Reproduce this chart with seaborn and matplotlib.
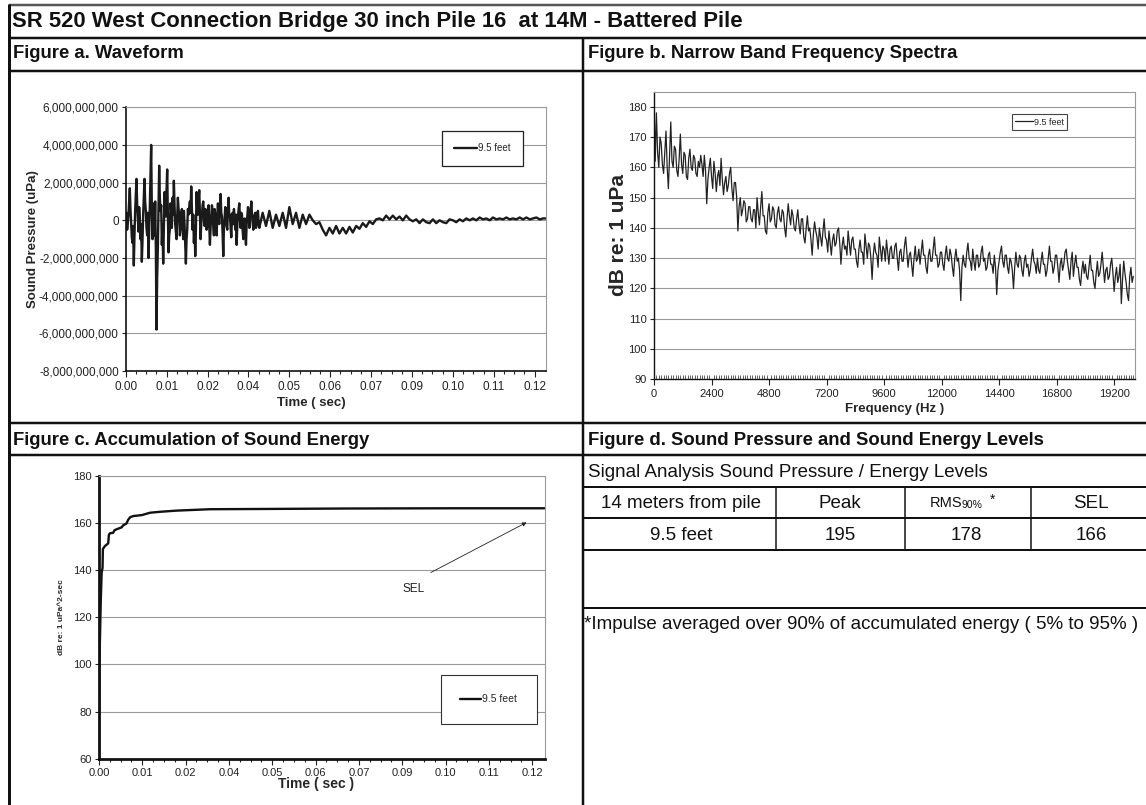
import numpy as np
import matplotlib
matplotlib.use("Agg")
import matplotlib.pyplot as plt
from matplotlib.ticker import FixedLocator, MultipleLocator, FuncFormatter, FormatStrFormatter
import seaborn as sns

W, H = 1146, 805

# Figure a: waveform, in 1e9 uPa. 0.2 ms samples up to 40 ms, then 1 ms samples
wave_step_early_ms = 0.2
wave_step_late_ms = 1.0
pressure_early = [
    0, 0.4, -0.5, -0.1, 0.3, 1.0, 1.7, 0.6, -0.2, -0.9, -1.2, -0.3, -2.4, -0.8, 0.5, 1.4, 2.2, 0.9, 0.2, -0.6,
    0.7, 0.1, -1.0, -0.2, -2.2, -1.1, 0.3, 1.3, 2.2, 1.0, 0.5, -0.4, -0.8, 0.4, -2.0, -0.7, 0.8, 2.5, 4.0, 0.6,
    -1.0, 0.9, 0.5, -0.8, 1.0, -1.5, -5.8, -3.0, -1.5, 0.8, 2.9, 1.2, 0.5, 0.8, -1.3, -0.2, -2.3, -0.4, 1.5, 0.4,
    0.2, 1.6, 2.7, 0.3, -1.7, -0.8, -0.5, 0.9, 0.5, -0.4, 1.2, 0.3, 2.1, 0.8, -0.2, -0.6, -1.0, 0.2, 1.2, 0.6,
    0.3, -0.8, -0.5, 0.4, 0.6, 0.1, -1.0, 0.5, -0.2, -1.2, -2.3, -1.0, -0.5, 0.6, 0.3, 0.7, 1.0, 0.4, 1.8, 0.6,
    -0.5, 0.3, -1.2, -0.3, -1.9, -0.5, 1.5, 0.6, 0.3, 1.1, 1.6, 0.4, -1.0, -0.2, 0.2, 0.8, 1.0, 0.3, -0.3, 0.6,
    0.5, -0.5, -0.3, 0.6, 0.8, -0.2, -1.3, -0.4, 0.2, 0.8, 0.5, -0.3, -0.8, 0.6, 0.3, -0.4, -0.8, 0.2, 0.9, 0.1,
    -0.2, 0.6, 1.4, 0.4, 0.2, -0.7, -1.9, -0.4, 0.1, 0.7, 0.5, -0.3, -0.5, 0.6, 1.2, 0.2, 0.3, -0.4, -0.9, 0.1,
    0.4, -0.2, 0.6, 0.1, -0.5, 0.3, -1.3, -0.3, 0.2, 0.6, 0.9, 0.1, -0.4, 0.4, 0.3, -0.5, -1.0, -0.1, 0.1, -0.6,
    -1.3, -0.2, 0.2, 0.7, 0.5, -0.4, -0.3, 0.5, 1.0, 0.3, 0.2, -0.5, -0.3, 0.3, 0.4, -0.4, -0.2, 0.4, 0.5, -0.2,
]
pressure_late = [
    -0.4, 0.4, -0.3, 0.5, -0.4, 0.3, -0.3, 0.4, -0.4, 0.7,
    -0.2, 0.4, -0.4, 0.3, -0.2, 0.3, 0.0, -0.2, -0.1, -0.5,
    -0.8, -0.4, -0.7, -0.3, -0.7, -0.4, -0.7, -0.35, -0.65, -0.3,
    -0.45, -0.15, -0.35, -0.05, -0.2, 0.05, 0.1, 0.0, 0.25, 0.05,
    0.25, 0.05, 0.2, 0.0, 0.25, 0.05, -0.05, 0.05, -0.15, 0.05,
    -0.1, -0.15, 0.05, -0.15, 0.0, -0.1, -0.15, 0.05, 0.0, -0.1,
    0.05, -0.05, 0.1, 0.0, 0.1, 0.0, 0.15, 0.05, 0.1, 0.0,
    0.15, 0.05, 0.1, 0.05, 0.15, 0.05, 0.1, 0.05, 0.15, 0.05,
    0.15, 0.05, 0.1, 0.15, 0.05, 0.1, 0.1,
]

# Figure b: narrow band spectrum, dB re 1 uPa every 50 Hz
spectrum_step_hz = 50
spectrum_db = [
    183, 162, 178, 165, 160, 170, 168, 161, 158, 165, 172, 160, 153, 164, 175, 162, 160, 167, 166, 159,
    157, 163, 171, 161, 158, 165, 164, 157, 156, 163, 166, 160, 159, 164, 163, 158, 157, 162, 160, 164,
    161, 157, 164, 159, 148, 156, 160, 163, 157, 153, 162, 158, 152, 157, 159, 154, 163, 156, 151, 155,
    157, 152, 154, 158, 160, 153, 149, 155, 155, 150, 139, 147, 150, 144, 146, 149, 148, 142, 143, 147,
    147, 143, 142, 146, 146, 140, 150, 145, 141, 147, 152, 144, 144, 139, 138, 145, 148, 142, 143, 147,
    146, 141, 140, 145, 147, 143, 142, 146, 145, 140, 137, 143, 148, 144, 141, 146, 144, 140, 139, 143,
    146, 141, 138, 143, 143, 137, 135, 140, 144, 139, 140, 136, 131, 138, 142, 139, 137, 133, 140, 137,
    134, 139, 143, 137, 136, 132, 139, 135, 131, 136, 138, 134, 135, 139, 140, 135, 128, 134, 137, 133,
    134, 131, 139, 135, 131, 136, 137, 133, 133, 129, 127, 133, 136, 132, 132, 128, 138, 134, 130, 135,
    134, 130, 123, 131, 135, 132, 131, 127, 137, 133, 129, 134, 133, 129, 136, 132, 128, 133, 134, 130,
    130, 134, 135, 130, 126, 132, 133, 129, 129, 134, 137, 132, 127, 131, 132, 128, 124, 130, 134, 129,
    130, 133, 128, 132, 136, 131, 131, 127, 125, 131, 133, 129, 129, 133, 137, 131, 131, 127, 128, 132,
    132, 128, 126, 131, 134, 130, 129, 133, 131, 127, 124, 130, 133, 129, 130, 126, 116, 127, 131, 128,
    127, 132, 135, 130, 129, 126, 133, 129, 126, 131, 131, 127, 128, 132, 134, 129, 130, 126, 127, 131,
    132, 128, 128, 125, 131, 127, 118, 126, 129, 132, 134, 129, 127, 131, 131, 127, 125, 130, 129, 126,
    120, 127, 132, 128, 127, 131, 130, 126, 124, 129, 131, 127, 128, 124, 126, 130, 133, 129, 128, 125,
    130, 126, 125, 129, 132, 128, 128, 124, 126, 130, 134, 129, 129, 125, 127, 131, 131, 127, 122, 128,
    130, 126, 128, 132, 133, 129, 126, 123, 129, 132, 124, 128, 131, 127, 127, 123, 121, 126, 129, 125,
    128, 124, 123, 127, 131, 126, 126, 122, 120, 125, 129, 124, 125, 128, 132, 127, 122, 126, 127, 123,
    124, 128, 130, 125, 119, 124, 127, 122, 124, 128, 115, 123, 129, 125, 122, 118, 116, 124, 127, 122,
    124,
]

# Figure c: accumulated sound energy
sel_time_ms = [0, 0.1, 0.3, 0.5, 0.75, 1.0, 1.1, 1.7, 2.6, 2.8,
               3.1, 4.0, 4.4, 5.0, 6.4, 6.8, 7.8, 8.2, 8.8, 9.7,
               12.1, 14.4, 17.2, 21.9, 26.6, 31.4, 45.5, 70, 100, 126]
sel_db = [60, 100, 113, 127, 139, 141, 149, 150.3, 151.4, 155,
          155.7, 155.9, 157, 157.4, 158.2, 159, 159.9, 161.3, 162.5, 163,
          163.4, 164.4, 164.8, 165.3, 165.6, 165.9, 166.0, 166.2, 166.3, 166.3]

# Figure d: table
table_head = ["14 meters from pile", "Peak", "RMS", "SEL"]
table_vals = ["9.5 feet", "195", "178", "166"]

time_label_step = 0.01225


def rect(l, t, r, b):
    return [l / W, 1 - b / H, (r - l) / W, (b - t) / H]


def style_axes(ax, spine_lw, tick_size=8):
    for s in ["top", "right"]:
        ax.spines[s].set_color("#9a9a9a")
        ax.spines[s].set_linewidth(0.8)
    for s in ["left", "bottom"]:
        ax.spines[s].set_color("#111111")
        ax.spines[s].set_linewidth(spine_lw)
    ax.grid(axis="y", color="#9a9a9a", lw=0.8)
    ax.grid(axis="x", visible=False)
    ax.set_axisbelow(True)
    ax.tick_params(axis="both", which="both", labelsize=tick_size, labelcolor="#222222",
                   color="#222222", left=True, bottom=True, width=0.8)
    ax.tick_params(axis="y", length=3, pad=2)
    ax.tick_params(axis="x", which="major", length=4, pad=3)
    ax.tick_params(axis="x", which="minor", length=2.5)


sns.set_theme(style="white")
plt.rcParams["font.family"] = ["Liberation Sans", "DejaVu Sans"]

fig = plt.figure(figsize=(W / 100, H / 100), dpi=100)

# ---- Figure a
t_a = np.concatenate([np.arange(len(pressure_early)) * wave_step_early_ms,
                      40 + np.arange(len(pressure_late)) * wave_step_late_ms]) / 1000
p_a = np.array(pressure_early + pressure_late) * 1e9

ax_a = fig.add_axes(rect(125.8, 107.3, 546.4, 371))
sns.lineplot(x=t_a, y=p_a, ax=ax_a, color="#1a1a1a", linewidth=1.7, label="9.5 feet", sort=False)
ax_a.set_xlim(0, 0.126)
ax_a.set_ylim(-8e9, 6e9)
ax_a.yaxis.set_major_locator(MultipleLocator(2e9))
ax_a.yaxis.set_major_formatter(FuncFormatter(lambda v, p: f"{v:,.0f}"))
ax_a.xaxis.set_major_locator(FixedLocator(np.arange(11) * time_label_step))
ax_a.xaxis.set_minor_locator(FixedLocator(np.arange(41) * time_label_step / 4))
ax_a.xaxis.set_major_formatter(FormatStrFormatter("%.2f"))
style_axes(ax_a, 1.2, tick_size=8.5)
ax_a.set_xlabel("Time ( sec)", fontsize=9.5, fontweight="bold")
ax_a.xaxis.set_label_coords(0.44, -0.1)
ax_a.set_ylabel("Sound Pressure (uPa)", fontsize=9.5, fontweight="bold", labelpad=0)
ax_a.legend(loc="center", bbox_to_anchor=(0.8475, 0.844), frameon=True, fancybox=False,
            edgecolor="#222222", fontsize=7, handlelength=2.3, handletextpad=0.1,
            borderpad=1.3, framealpha=1).get_frame().set_linewidth(0.9)

# ---- Figure b
f_b = np.arange(len(spectrum_db)) * spectrum_step_hz
ax_b = fig.add_axes(rect(654, 91.7, 1135, 379.3))
sns.lineplot(x=f_b, y=spectrum_db, ax=ax_b, color="#222222", linewidth=0.9, label="9.5 feet")
ax_b.set_xlim(0, 20070)
ax_b.set_ylim(90, 185)
ax_b.yaxis.set_major_locator(FixedLocator(np.arange(90, 181, 10)))
ax_b.xaxis.set_major_locator(MultipleLocator(2400))
ax_b.xaxis.set_minor_locator(MultipleLocator(100))
style_axes(ax_b, 1.0)
ax_b.tick_params(axis="x", which="minor", direction="in", length=3, width=0.5)
ax_b.set_xlabel("Frequency (Hz )", fontsize=9.5, fontweight="bold", labelpad=3)
ax_b.set_ylabel("dB re: 1 uPa", fontsize=15, fontweight="bold", labelpad=0)
ax_b.legend(loc="center", bbox_to_anchor=(0.8015, 0.8945), frameon=True, fancybox=False,
            edgecolor="#444444", fontsize=6.5, handlelength=2.0, handletextpad=0.1,
            borderpad=0.35, framealpha=1).get_frame().set_linewidth(0.8)

# ---- Figure c
ax_c = fig.add_axes(rect(99, 476, 544.6, 758.7))
sns.lineplot(x=np.array(sel_time_ms) / 1000, y=sel_db, ax=ax_c, color="#111111",
             linewidth=1.7, label="9.5 feet")
ax_c.set_xlim(0, 0.126)
ax_c.set_ylim(60, 180)
ax_c.yaxis.set_major_locator(MultipleLocator(20))
ax_c.xaxis.set_major_locator(FixedLocator(np.arange(11) * time_label_step))
ax_c.xaxis.set_minor_locator(FixedLocator(np.arange(41) * time_label_step / 4))
ax_c.xaxis.set_major_formatter(FormatStrFormatter("%.2f"))
style_axes(ax_c, 2.0)
ax_c.set_xlabel("Time ( sec )", fontsize=10, fontweight="bold")
ax_c.xaxis.set_label_coords(0.487, -0.065)
ax_c.set_ylabel("dB re: 1 uPa^2-sec", fontsize=6, fontweight="bold", labelpad=6)
ax_c.legend(loc="center", bbox_to_anchor=(0.8745, 0.2095), frameon=True, fancybox=False,
            edgecolor="#333333", fontsize=7.5, handlelength=2.0, handletextpad=0.1,
            borderpad=1.9, framealpha=1).get_frame().set_linewidth(0.8)
ax_c.text(0.0890, 132, "SEL", fontsize=8.5, ha="center", va="center", color="#222222")
ax_c.annotate("", xy=(0.1209, 160.3), xytext=(0.0938, 139),
              arrowprops=dict(arrowstyle="-|>", lw=0.6, color="#222222",
                              mutation_scale=6, shrinkA=0, shrinkB=0))

# ---- frame, headers and table (pixel coordinates)
ov = fig.add_axes([0, 0, 1, 1])
ov.set_xlim(0, W)
ov.set_ylim(H, 0)
ov.axis("off")
ov.patch.set_alpha(0)

lw_px = 0.72
ov.plot([9, W], [5, 5], color="#555555", lw=2.5 * lw_px, solid_capstyle="butt")
for y in [38, 71, 423, 455]:
    ov.plot([9, W], [y, y], color="#111111", lw=2.5 * lw_px, solid_capstyle="butt")
ov.plot([9, 9], [4, H], color="#111111", lw=3 * lw_px, solid_capstyle="butt")
ov.plot([583, 583], [38, H], color="#111111", lw=2.5 * lw_px, solid_capstyle="butt")
for y in [487, 518, 550, 608]:
    ov.plot([583, W], [y, y], color="#111111", lw=2 * lw_px, solid_capstyle="butt")
for x in [776, 905, 1031]:
    ov.plot([x, x], [487, 550], color="#111111", lw=1.5 * lw_px, solid_capstyle="butt")

ov.text(12, 21.5, "SR 520 West Connection Bridge 30 inch Pile 16  at 14M - Battered Pile",
        fontsize=15.9, fontweight="bold", va="center", ha="left", color="#111111")
ov.text(13, 54, "Figure a. Waveform", fontsize=13.3, fontweight="bold", va="center", color="#111111")
ov.text(588, 54, "Figure b. Narrow Band Frequency Spectra", fontsize=13.3, fontweight="bold",
        va="center", color="#111111")
ov.text(13, 440, "Figure c. Accumulation of Sound Energy", fontsize=13.3, fontweight="bold",
        va="center", color="#111111")
ov.text(588, 440, "Figure d. Sound Pressure and Sound Energy Levels", fontsize=13.3,
        fontweight="bold", va="center", color="#111111")
ov.text(588, 472, "Signal Analysis Sound Pressure / Energy Levels", fontsize=13.5,
        va="center", color="#111111")

col_centers = [681, 840, 966, 1091]
for i, (h, v) in enumerate(zip(table_head, table_vals)):
    if h == "RMS":
        ov.text(930, 503, "RMS", fontsize=10.5, va="center", ha="left", color="#111111")
        ov.text(961, 505, "90%", fontsize=7.5, va="center", ha="left", color="#111111")
        ov.text(990, 500, "*", fontsize=10, va="center", ha="left", color="#111111")
    else:
        ov.text(col_centers[i], 503, h, fontsize=13.5, va="center", ha="center", color="#111111")
    ov.text(col_centers[i], 535, v, fontsize=13.5, va="center", ha="center", color="#111111")

ov.text(584, 624, "*Impulse averaged over 90% of accumulated energy ( 5% to 95% )",
        fontsize=13.5, va="center", ha="left", color="#111111")

fig.savefig("out.png", dpi=100)
